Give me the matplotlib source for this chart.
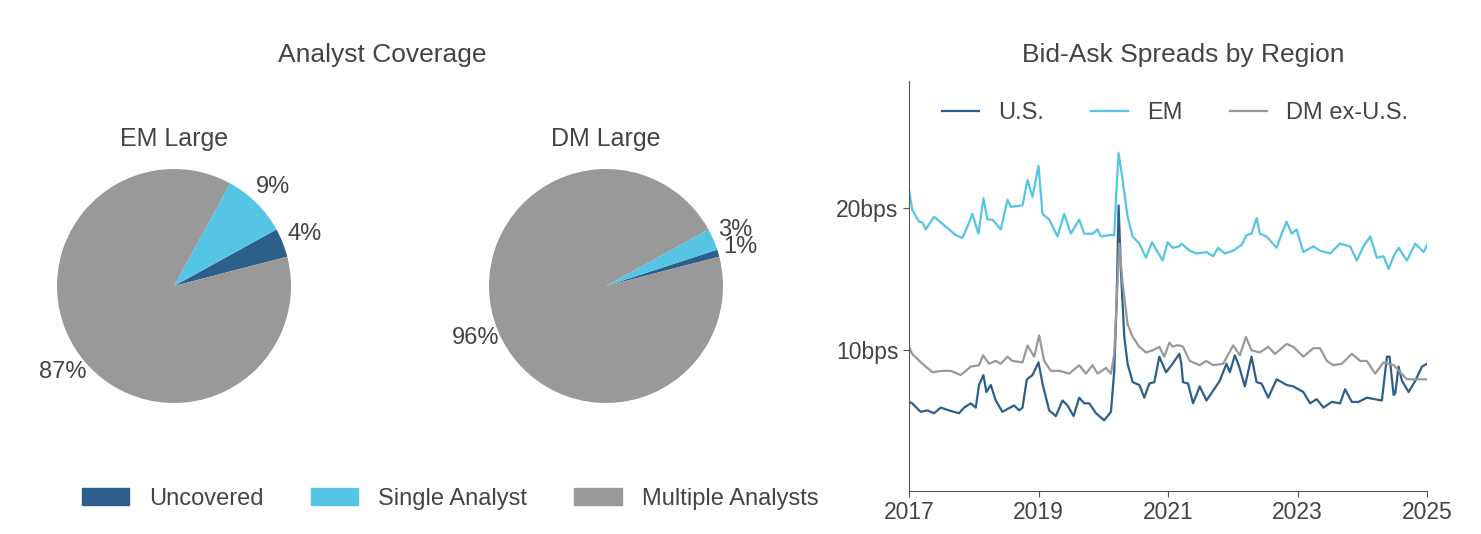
import numpy as np
import matplotlib
matplotlib.use("Agg")
import matplotlib.pyplot as plt
from matplotlib.patches import Patch

plt.rcParams['font.family'] = ['Liberation Sans', 'DejaVu Sans']
TXT = '#444444'
plt.rcParams['text.color'] = TXT
plt.rcParams['axes.labelcolor'] = TXT
plt.rcParams['xtick.color'] = TXT
plt.rcParams['ytick.color'] = TXT

# colours
C_DARK = '#2d5f8b'
C_LIGHT = '#56c5e5'
C_GRAY = '#999999'

# ---- pie data ----
pie_labels = ['Uncovered', 'Single Analyst', 'Multiple Analysts']
em_large = [4, 9, 87]
dm_large = [1, 3, 96]

# ---- bid-ask spreads (bps), time in decimal years ----
em_t = [2017.0, 2017.05, 2017.155, 2017.206, 2017.258, 2017.387, 2017.515, 2017.619,
        2017.722, 2017.825, 2017.902, 2017.979, 2018.072, 2018.149, 2018.211, 2018.289,
        2018.418, 2018.521, 2018.572, 2018.753, 2018.83, 2018.907, 2019.0, 2019.062,
        2019.165, 2019.294, 2019.397, 2019.5, 2019.629, 2019.706, 2019.835, 2019.912,
        2019.964, 2020.093, 2020.17, 2020.206, 2020.237, 2020.299, 2020.376, 2020.454,
        2020.557, 2020.66, 2020.753, 2020.84, 2020.918, 2020.995, 2021.072, 2021.175,
        2021.206, 2021.335, 2021.439, 2021.594, 2021.697, 2021.774, 2021.877, 2022.006,
        2022.135, 2022.213, 2022.29, 2022.368, 2022.419, 2022.523, 2022.677, 2022.755,
        2022.832, 2022.91, 2022.987, 2023.09, 2023.245, 2023.348, 2023.503, 2023.658,
        2023.813, 2023.916, 2024.019, 2024.123, 2024.226, 2024.329, 2024.406, 2024.484,
        2024.561, 2024.69, 2024.819, 2024.948, 2025.0]
em = [21.3, 19.9, 19.05, 19.0, 18.5, 19.4, 18.9, 18.5,
      18.1, 17.9, 18.7, 19.6, 18.2, 20.7, 19.2, 19.2,
      18.5, 20.6, 20.1, 20.2, 22.0, 20.8, 23.0, 19.6,
      19.2, 18.0, 19.6, 18.2, 19.2, 18.2, 18.2, 18.5,
      18.0, 18.1, 18.1, 21.5, 23.9, 22.0, 19.4, 18.0,
      17.5, 16.5, 17.6, 16.9, 16.3, 17.6, 17.2, 17.3,
      17.5, 17.0, 16.8, 16.9, 16.6, 17.2, 16.8, 17.0,
      17.4, 18.1, 18.2, 19.3, 18.2, 18.0, 17.2, 18.2,
      19.05, 18.2, 18.5, 16.9, 17.3, 17.0, 16.8, 17.5,
      17.3, 16.3, 17.3, 18.0, 16.5, 16.6, 15.7, 16.6,
      17.2, 16.3, 17.5, 16.9, 17.4]

dm_t = [2017.0, 2017.05, 2017.206, 2017.361, 2017.515, 2017.644, 2017.799, 2017.954,
        2018.082, 2018.144, 2018.237, 2018.34, 2018.418, 2018.521, 2018.598, 2018.753,
        2018.83, 2018.933, 2019.01, 2019.088, 2019.191, 2019.32, 2019.474, 2019.629,
        2019.732, 2019.835, 2019.912, 2020.041, 2020.119, 2020.17, 2020.206, 2020.247,
        2020.299, 2020.376, 2020.454, 2020.557, 2020.66, 2020.763, 2020.866, 2020.943,
        2021.021, 2021.072, 2021.129, 2021.175, 2021.232, 2021.335, 2021.49, 2021.594,
        2021.697, 2021.852, 2022.006, 2022.11, 2022.203, 2022.29, 2022.419, 2022.548,
        2022.652, 2022.832, 2022.935, 2023.09, 2023.245, 2023.348, 2023.452, 2023.555,
        2023.684, 2023.839, 2023.968, 2024.071, 2024.2, 2024.329, 2024.484, 2024.587,
        2024.69, 2024.845, 2025.0]
dm = [10.2, 9.7, 9.0, 8.4, 8.5, 8.5, 8.2, 8.8,
      8.9, 9.6, 9.0, 9.2, 9.0, 9.5, 9.2, 9.1,
      10.3, 9.5, 11.0, 9.2, 8.5, 8.5, 8.3, 8.9,
      8.3, 8.9, 8.3, 8.7, 8.3, 9.7, 13.3, 17.5,
      14.7, 11.8, 10.9, 10.2, 9.8, 9.95, 10.2, 9.5,
      10.5, 10.2, 10.3, 10.3, 10.2, 9.2, 8.9, 9.2,
      8.9, 9.0, 10.3, 9.6, 10.9, 9.95, 9.8, 10.2,
      9.7, 10.4, 10.2, 9.5, 10.1, 10.1, 9.2, 8.9,
      9.0, 9.7, 9.2, 9.2, 8.3, 9.1, 8.9, 8.4,
      7.9, 7.9, 7.9]

us_t = [2017.0, 2017.05, 2017.18, 2017.284, 2017.387, 2017.49, 2017.619, 2017.773,
        2017.851, 2017.954, 2018.031, 2018.082, 2018.149, 2018.196, 2018.263, 2018.34,
        2018.443, 2018.521, 2018.624, 2018.701, 2018.753, 2018.82, 2018.907, 2019.0,
        2019.062, 2019.165, 2019.268, 2019.371, 2019.448, 2019.541, 2019.629, 2019.706,
        2019.784, 2019.887, 2020.015, 2020.119, 2020.17, 2020.206, 2020.237, 2020.273,
        2020.325, 2020.376, 2020.454, 2020.557, 2020.634, 2020.711, 2020.789, 2020.866,
        2020.969, 2021.072, 2021.175, 2021.206, 2021.232, 2021.31, 2021.387, 2021.49,
        2021.594, 2021.697, 2021.8, 2021.903, 2021.955, 2022.032, 2022.099, 2022.187,
        2022.29, 2022.368, 2022.445, 2022.548, 2022.677, 2022.832, 2022.935, 2023.09,
        2023.194, 2023.297, 2023.4, 2023.529, 2023.658, 2023.735, 2023.839, 2023.942,
        2024.071, 2024.303, 2024.381, 2024.422, 2024.484, 2024.51, 2024.561, 2024.613,
        2024.716, 2024.819, 2024.923, 2025.0]
us = [6.3, 6.2, 5.6, 5.7, 5.5, 5.9, 5.7, 5.5,
      5.9, 6.2, 5.9, 7.5, 8.2, 7.0, 7.5, 6.4,
      5.6, 5.8, 6.05, 5.7, 5.9, 7.9, 8.2, 9.1,
      7.6, 5.7, 5.3, 6.4, 6.05, 5.3, 6.6, 6.2,
      6.2, 5.5, 5.0, 5.6, 8.5, 13.3, 20.2, 15.6,
      10.9, 9.0, 7.7, 7.5, 6.6, 7.6, 7.7, 9.5,
      8.4, 9.0, 9.7, 9.0, 7.7, 7.6, 6.2, 7.4,
      6.4, 7.1, 7.8, 9.0, 8.4, 9.6, 8.8, 7.4,
      9.5, 7.7, 7.6, 6.6, 7.9, 7.5, 7.4, 7.0,
      6.2, 6.5, 5.9, 6.3, 6.2, 7.2, 6.3, 6.3,
      6.6, 6.4, 9.5, 9.5, 6.8, 6.9, 8.8, 7.8,
      7.0, 7.8, 8.8, 9.0]

W, H = 1481, 534
fig = plt.figure(figsize=(W / 100, H / 100), dpi=100)

pie_colors = [C_DARK, C_LIGHT, C_GRAY]
side = 292.5  # pixels for 2.5 units -> radius ~117 px


def pie_axes(cx, cy):
    return fig.add_axes([(cx - side / 2) / W, (H - cy - side / 2) / H, side / W, side / H])


for cx, vals, name in [(174, em_large, 'EM Large'), (606, dm_large, 'DM Large')]:
    ax = pie_axes(cx, 286)
    ax.pie(vals, colors=pie_colors, startangle=14.5, autopct='%d%%',
           pctdistance=1.2, textprops={'fontsize': 17, 'color': TXT})
    ax.set_xlim(-1.25, 1.25)
    ax.set_ylim(-1.25, 1.25)
    ax.set_aspect('equal')
    fig.text(cx / W, 1 - 139 / H, name, ha='center', va='center', fontsize=18)

fig.text(382 / W, 1 - 55 / H, 'Analyst Coverage', ha='center', va='center', fontsize=19)

handles = [Patch(facecolor=c, edgecolor=c) for c in pie_colors]
fig.legend(handles, pie_labels, loc='center', bbox_to_anchor=(450 / W, 1 - 499 / H),
           ncol=3, frameon=False, fontsize=17, handlelength=2.0, handleheight=0.7,
           columnspacing=2.0, handletextpad=0.85)

# ---- line chart ----
x0, x1, y0, y1 = 909, 1427, 81, 491
ax = fig.add_axes([x0 / W, (H - y1) / H, (x1 - x0) / W, (y1 - y0) / H])
ax.plot(us_t, us, color=C_DARK, lw=1.6, label='U.S.')
ax.plot(em_t, em, color=C_LIGHT, lw=1.6, label='EM')
ax.plot(dm_t, dm, color=C_GRAY, lw=1.6, label='DM ex-U.S.')
ax.set_xlim(2017, 2025)
ax.set_ylim(0, 29)
ax.set_xticks([2017, 2019, 2021, 2023, 2025])
ax.set_yticks([10, 20])
ax.set_yticklabels(['10bps', '20bps'])
ax.tick_params(labelsize=16.5, color='#555555', length=4)
for s in ['top', 'right']:
    ax.spines[s].set_visible(False)
for s in ['left', 'bottom']:
    ax.spines[s].set_color('#555555')
ax.legend(loc='center', bbox_to_anchor=((1175 - x0) / (x1 - x0), 1 - (113 - y0) / (y1 - y0)),
          ncol=3, frameon=False, fontsize=17, handlelength=1.57, handletextpad=0.8,
          columnspacing=2.0)
fig.text(1183 / W, 1 - 55 / H, 'Bid-Ask Spreads by Region', ha='center', va='center',
         fontsize=19)

fig.savefig('out.png', dpi=100, facecolor='white')
